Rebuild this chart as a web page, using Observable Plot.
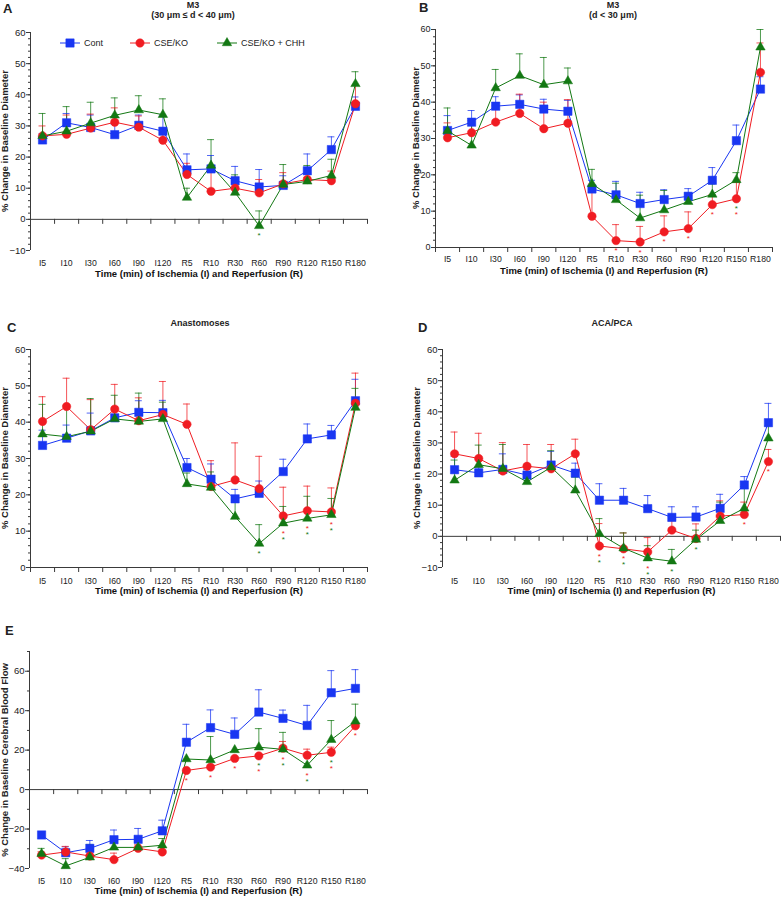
<!DOCTYPE html>
<html><head><meta charset="utf-8">
<script src="https://cdn.jsdelivr.net/npm/d3@7"></script>
<script src="https://cdn.jsdelivr.net/npm/@observablehq/plot@0.6"></script>
<style>
body{margin:0;background:#fff;font-family:"Liberation Sans",Arial,Helvetica,sans-serif;color:#222}
#fig{position:relative;width:782px;height:900px;overflow:hidden;background:#fff}
#fig svg{position:absolute}
.abs{position:absolute;white-space:nowrap}
.letter{font-weight:bold;font-size:13px;line-height:13px}
.ttl{font-weight:bold;font-size:9px;line-height:10px;text-align:center;transform:translateX(-50%)}
.ytitle{font-weight:bold;font-size:9.5px;line-height:10px;transform:translate(-50%,-50%) rotate(-90deg)}
.leg{font-size:9px;line-height:10px}
</style></head><body><div id="fig"></div>
<script>
// ---------- data ----------
const categories = ["I5","I10","I30","I60","I90","I120","R5","R10","R30","R60","R90","R120","R150","R180"];
const seriesNames = ["Cont","CSE/KO","CSE/KO + CHH"];

// Panel A: M3 (30 µm ≤ d < 40 µm) — means and upper error-bar ends
const contA   = [25.5,31.0,29.5,27.2,30.2,28.3,15.9,16.2,12.4,10.4,10.9,15.6,22.4,36.3];
const contAhi = [27.5,34.0,33.5,30.5,33.5,33.5,21.0,20.5,17.0,16.0,14.0,21.0,26.5,39.3];
const koA     = [26.8,27.3,29.3,31.2,29.6,25.4,14.4,9.0,10.0,8.5,11.4,12.8,12.4,37.1];
const koAhi   = [30.0,33.5,33.8,35.8,33.2,29.0,18.0,15.5,13.5,12.8,15.0,13.5,15.5,43.0];
const chhA    = [26.8,28.3,30.9,33.4,35.1,33.6,7.0,17.3,8.6,-2.1,11.2,12.2,14.1,43.5];
const chhAhi  = [34.0,36.2,37.6,39.0,39.7,38.7,10.0,25.6,14.3,2.7,17.6,17.3,19.3,47.4];
const starsA  = [["R60",["CSE/KO + CHH"]]];

// Panel B: M3 (d < 30 µm)
const contB   = [32.2,34.5,38.9,39.4,38.1,37.5,16.1,14.5,12.1,13.2,14.1,18.5,29.4,43.6];
const contBhi = [36.3,37.7,41.5,42.0,40.8,40.5,18.5,18.2,15.2,15.9,16.2,22.0,33.7,47.0];
const koB     = [30.2,31.6,34.5,36.9,32.7,34.2,8.6,1.9,1.5,4.3,5.2,11.8,13.4,48.2];
const koBhi   = [34.3,35.0,39.0,42.2,40.0,40.7,17.5,6.3,5.8,8.7,9.8,14.5,17.9,56.3];
const chhB    = [32.1,28.1,43.9,47.3,44.8,45.8,17.5,13.1,8.1,10.3,12.6,14.6,18.6,55.1];
const chhBhi  = [38.4,35.5,49.0,53.3,52.3,49.4,21.5,17.7,14.4,15.7,15.0,17.5,20.6,60.0];
const starsB  = [["R10",["CSE/KO"]],["R30",["CSE/KO"]],["R60",["CSE/KO"]],["R90",["CSE/KO"]],["R120",["CSE/KO"]],["R150",["CSE/KO + CHH","CSE/KO"]]];

// Panel C: Anastomoses
const contC   = [33.6,35.6,37.6,41.2,42.7,42.6,27.5,24.3,18.9,20.4,26.4,35.4,36.5,45.9];
const contChi = [37.8,39.2,42.5,42.0,45.9,46.0,30.0,28.5,21.5,23.8,29.8,39.5,39.1,51.8];
const koC     = [40.2,44.3,37.9,43.6,40.4,42.1,39.4,22.3,24.1,21.7,14.2,15.6,15.3,45.2];
const koChi   = [47.0,52.1,46.2,50.4,46.7,51.2,45.0,29.4,34.3,30.6,22.1,22.4,21.9,53.5];
const chhC    = [36.7,36.0,37.5,40.9,40.2,40.9,23.0,22.0,14.0,6.6,12.2,13.5,14.5,44.0];
const chhChi  = [44.9,44.5,46.5,47.4,48.0,45.5,26.0,26.3,18.0,11.8,16.8,19.6,19.0,49.3];
const starsC  = [["R60",["CSE/KO + CHH"]],["R90",["CSE/KO","CSE/KO + CHH"]],["R120",["CSE/KO","CSE/KO + CHH"]],["R150",["CSE/KO","CSE/KO + CHH"]]];

// Panel D: ACA/PCA
const contD   = [21.4,20.4,21.5,19.7,22.9,20.3,11.6,11.6,8.9,6.1,6.2,9.0,16.5,36.5];
const contDhi = [25.7,22.0,26.5,21.5,27.3,23.5,16.9,15.4,13.1,9.5,9.5,13.5,19.2,42.7];
const koD     = [26.5,25.0,21.0,22.5,21.7,26.5,-3.1,-4.0,-5.0,2.0,-0.7,6.5,7.0,24.0];
const koDhi   = [33.5,33.1,30.1,29.5,29.5,31.2,4.1,1.1,-0.4,5.0,4.0,11.4,11.0,27.9];
const chhD    = [18.0,23.0,21.7,17.5,22.2,14.8,0.8,-3.8,-7.0,-8.0,-1.0,5.0,9.0,31.5];
const chhDhi  = [24.5,29.3,29.5,20.0,27.5,19.0,5.7,1.1,-3.0,-4.2,2.0,11.0,16.0,35.5];
const starsD  = [["R5",["CSE/KO","CSE/KO + CHH"]],["R10",["CSE/KO","CSE/KO + CHH"]],["R30",["CSE/KO","CSE/KO + CHH"]],["R60",["CSE/KO + CHH"]],["R90",["CSE/KO + CHH"]],["R150",["CSE/KO"]],["R180",["CSE/KO"]]];

// Panel E: cerebral blood flow
const contE   = [-23.0,-32.0,-29.8,-25.4,-25.2,-20.9,24.0,31.4,28.0,39.3,36.1,32.5,49.1,51.3];
const contEhi = [-23.0,-29.0,-25.8,-20.5,-19.7,-15.5,33.1,40.4,36.3,50.6,40.3,42.7,60.3,60.8];
const koE     = [-33.2,-31.6,-33.7,-35.5,-29.8,-31.6,9.7,11.4,15.8,17.1,21.0,17.4,18.9,32.3];
const koEhi   = [-31.5,-28.8,-31.0,-32.2,-28.0,-31.6,9.7,11.4,15.8,17.1,24.4,20.5,21.5,32.3];
const chhE    = [-32.5,-38.7,-34.3,-29.3,-29.3,-28.2,15.5,15.0,20.1,21.5,20.4,12.3,25.3,34.6];
const chhEhi  = [-29.8,-35.0,-27.8,-26.0,-29.3,-24.8,15.5,26.9,20.1,30.9,29.0,12.3,35.0,43.3];
const starsE  = [["R5",["CSE/KO"]],["R10",["CSE/KO"]],["R30",["CSE/KO"]],["R60",["CSE/KO + CHH","CSE/KO"]],["R90",["CSE/KO","CSE/KO + CHH"]],["R120",["CSE/KO","CSE/KO + CHH"]],["R150",["CSE/KO + CHH","CSE/KO"]],["R180",["CSE/KO"]]];

const xTitle = "Time (min) of Ischemia (I) and Reperfusion (R)";
const yTitleDiam = "% Change in Baseline Diameter";
const yTitleFlow = "% Change in Baseline Cerebral Blood Flow";

// ---------- style ----------
const colors = ["#1936f2","#f01c22","#137813"];
const axisColor = "#3a3a3a";
const font = "Liberation Sans, Arial, Helvetica, sans-serif";
const fig = document.getElementById("fig");

function addDiv(cls, text, css) {
  const d = document.createElement("div");
  d.className = "abs " + cls;
  d.textContent = text;
  Object.assign(d.style, css);
  fig.appendChild(d);
  return d;
}

function makePanel(cfg) {
  const rows = [];
  cfg.data.forEach(([vals, his], k) =>
    vals.forEach((v, i) => rows.push({s: seriesNames[k], i, v, hi: his[i]})));
  const bounds = d3.range(categories.length + 1).map(k => k - 0.5);
  const stars1 = [], stars2 = [];
  cfg.stars.forEach(([cat, ss]) => {
    const i = categories.indexOf(cat);
    const base = d3.min(ss, s => rows.find(r => r.s === s && r.i === i).v);
    ss.forEach((s, j) => (j ? stars2 : stars1).push({s, i, v: base}));
  });
  const bars = rows.filter(r => r.hi > r.v);
  const dotMarks = [
    {s: "Cont", symbol: "square", r: 4.7},
    {s: "CSE/KO", symbol: "circle", r: 4.2},
    {s: "CSE/KO + CHH", symbol: "triangle", r: 3.5}
  ];
  const plot = Plot.plot({
    width: cfg.w, height: cfg.h,
    marginLeft: cfg.ml, marginRight: cfg.mr, marginTop: cfg.mt, marginBottom: cfg.mb,
    style: {fontFamily: font, background: "transparent", overflow: "visible"},
    x: {domain: [-0.5, categories.length - 0.5]},
    y: {domain: cfg.yDomain},
    color: {domain: seriesNames, range: colors},
    marks: [
      Plot.ruleX([-0.5], {stroke: axisColor}),
      Plot.ruleY([0], {stroke: axisColor}),
      Plot.ruleX(bounds, {x: d => d, y1: 0, y2: 0, insetBottom: -5, stroke: axisColor}),
      Plot.axisY({ticks: cfg.minors, tickSize: 2, tickFormat: () => "", label: null, stroke: axisColor}),
      Plot.axisY({ticks: cfg.majors, tickSize: 4, tickPadding: 1, fontSize: cfg.yfs, label: null, stroke: axisColor, color: "#222"}),
      Plot.axisX({ticks: d3.range(categories.length), tickFormat: i => categories[i], tickSize: 0,
                  tickPadding: cfg.tp, fontSize: 8.7, label: null, color: "#222"}),
      Plot.text([xTitle], {text: d => d, frameAnchor: "bottom", dy: cfg.xtDy, fontWeight: "bold", fontSize: 9.5, fill: "#111"}),
      Plot.ruleX(bars, {x: "i", y1: "v", y2: "hi", stroke: "s", strokeOpacity: 0.75}),
      Plot.ruleY(bars, {y: "hi", x1: "i", x2: "i", insetLeft: -3.5, insetRight: -3.5, stroke: "s", strokeOpacity: 0.75}),
      ...seriesNames.map(s => Plot.line(rows.filter(r => r.s === s), {x: "i", y: "v", stroke: "s", strokeWidth: 1})),
      ...dotMarks.map(m => Plot.dot(rows.filter(r => r.s === m.s),
          {x: "i", y: "v", fill: "s", stroke: "s", strokeWidth: 0.5, symbol: m.symbol, r: m.r})),
      Plot.text(stars1, {x: "i", y: "v", text: () => "*", fill: "s", dy: 10, fontSize: 8}),
      Plot.text(stars2, {x: "i", y: "v", text: () => "*", fill: "s", dy: 16, fontSize: 8})
    ]
  });
  plot.style.left = cfg.left + "px";
  plot.style.top = cfg.top + "px";
  fig.appendChild(plot);
  addDiv("ytitle", cfg.yTitle, {left: cfg.ytx + "px", top: cfg.yty + "px"});
}

const panels = [
  {data: [[contA, contAhi],[koA, koAhi],[chhA, chhAhi]], stars: starsA,
   yDomain: [-10, 60], majors: d3.range(-10, 61, 10), minors: d3.range(-10, 61, 2), yfs: 9.5,
   left: 0, top: 20, w: 390, h: 265, ml: 30, mr: 23, mt: 12, mb: 35, tp: 9, xtDy: 26,
   yTitle: yTitleDiam, ytx: 5, yty: 141},
  {data: [[contB, contBhi],[koB, koBhi],[chhB, chhBhi]], stars: starsB,
   yDomain: [0, 60], majors: d3.range(0, 61, 10), minors: d3.range(0, 61, 2), yfs: 9,
   left: 390, top: 20, w: 392, h: 265, ml: 45, mr: 10, mt: 9, mb: 38, tp: 8, xtDy: 26,
   yTitle: yTitleDiam, ytx: 416, yty: 138},
  {data: [[contC, contChi],[koC, koChi],[chhC, chhChi]], stars: starsC,
   yDomain: [0, 60], majors: d3.range(0, 61, 10), minors: d3.range(0, 61, 2), yfs: 9.5,
   left: 0, top: 330, w: 390, h: 275, ml: 30, mr: 23, mt: 19, mb: 38, tp: 10, xtDy: 26,
   yTitle: yTitleDiam, ytx: 5, yty: 458},
  {data: [[contD, contDhi],[koD, koDhi],[chhD, chhDhi]], stars: starsD,
   yDomain: [-10, 60], majors: d3.range(-10, 61, 10), minors: d3.range(-10, 61, 2), yfs: 9.5,
   left: 390, top: 330, w: 392, h: 275, ml: 52, mr: 2, mt: 19, mb: 38, tp: 10, xtDy: 26,
   yTitle: yTitleDiam, ytx: 417, yty: 458},
  {data: [[contE, contEhi],[koE, koEhi],[chhE, chhEhi]], stars: starsE,
   yDomain: [-40, 70], majors: d3.range(-40, 61, 20), minors: d3.range(-40, 71, 10), yfs: 9.5,
   left: 0, top: 640, w: 390, h: 260, ml: 29, mr: 23, mt: 11, mb: 32, tp: 9, xtDy: 25,
   yTitle: yTitleFlow, ytx: 5, yty: 760}
];
panels.forEach(makePanel);

// panel letters and titles
addDiv("letter", "A", {left: "3px", top: "2px"});
addDiv("ttl", "M3", {left: "193px", top: "0px"});
addDiv("ttl", "(30 μm ≤ d < 40 μm)", {left: "193px", top: "10px"});
addDiv("letter", "B", {left: "419px", top: "1px"});
addDiv("ttl", "M3", {left: "613px", top: "0px"});
addDiv("ttl", "(d < 30 μm)", {left: "613px", top: "10px"});
addDiv("letter", "C", {left: "7px", top: "321px"});
addDiv("ttl", "Anastomoses", {left: "200px", top: "318px"});
addDiv("letter", "D", {left: "418px", top: "321px"});
addDiv("ttl", "ACA/PCA", {left: "612px", top: "318px"});
addDiv("letter", "E", {left: "5px", top: "624px"});

// legend (panel A)
const legendItems = [
  {x: 60, symbol: d3.symbolSquare, r: 4.7},
  {x: 130, symbol: d3.symbolCircle, r: 4.2},
  {x: 217, symbol: d3.symbolTriangle, r: 3.5}
];
legendItems.forEach((it, k) => {
  const svg = d3.create("svg").attr("width", 22).attr("height", 12)
    .style("left", it.x + "px").style("top", "37px");
  svg.append("line").attr("x1", 0).attr("x2", 20).attr("y1", 6).attr("y2", 6)
    .attr("stroke", colors[k]).attr("stroke-width", 1);
  svg.append("path").attr("d", d3.symbol(it.symbol, Math.PI * it.r * it.r)())
    .attr("transform", "translate(10,6)").attr("fill", colors[k]).attr("stroke", colors[k]).attr("stroke-width", 0.5);
  fig.appendChild(svg.node());
  addDiv("leg", seriesNames[k], {left: (it.x + 24) + "px", top: "38px"});
});
</script>
</body></html>
